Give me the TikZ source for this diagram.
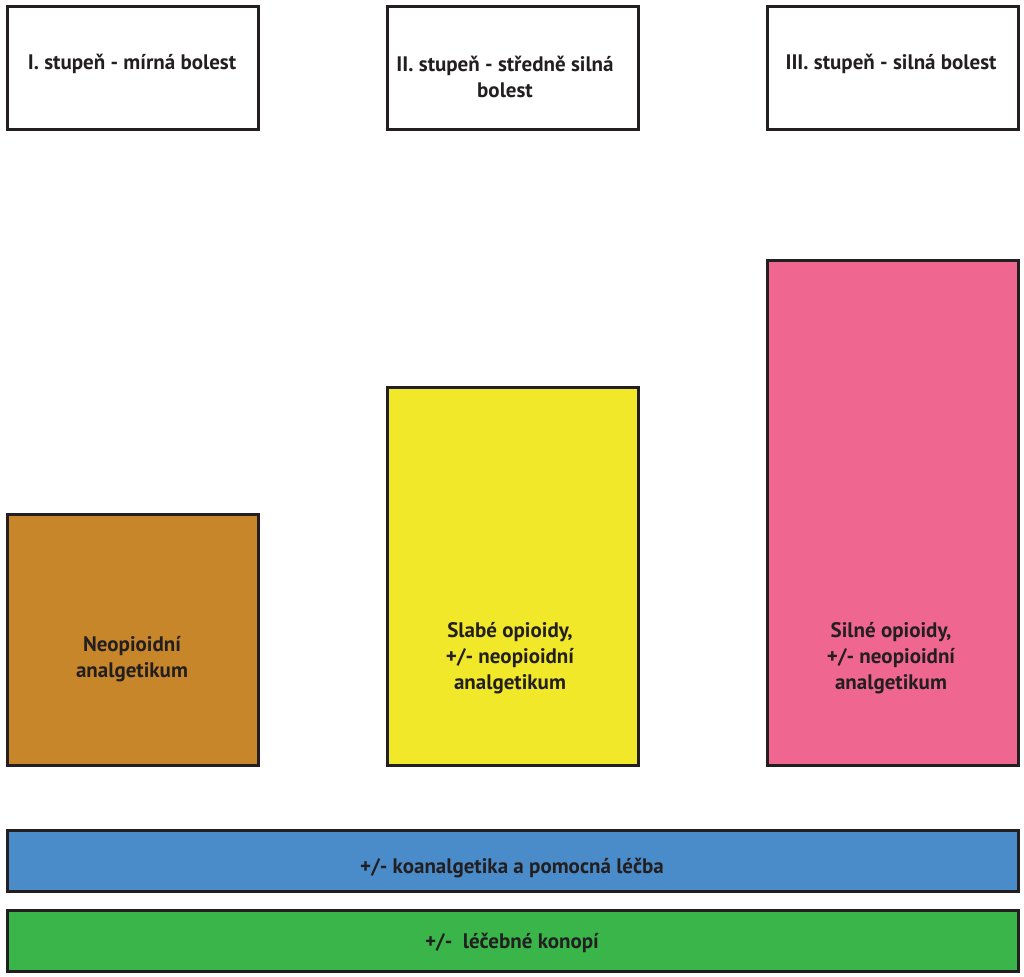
\documentclass[tikz,border=0pt]{standalone}
\usepackage{fontspec}
\setmainfont{PT Sans}
\definecolor{ink}{HTML}{231F20}
\definecolor{cOrange}{HTML}{C8862B}
\definecolor{cYellow}{HTML}{F0E829}
\definecolor{cPink}{HTML}{EF6690}
\definecolor{cBlue}{HTML}{4A8BC9}
\definecolor{cGreen}{HTML}{39B54A}
\begin{document}
\begin{tikzpicture}[x=1pt,y=-1pt,
  box/.style={draw=ink, line width=3pt, rectangle, inner sep=0pt, anchor=north west},
  txt/.style={text=ink, font=\bfseries\fontsize{21}{26}\selectfont, align=center, inner sep=0pt}]
\useasboundingbox (0,0) rectangle (1024,976);
% top headers
\node[box, fill=white, minimum width=251, minimum height=123] (h1) at (5.5,5.5) {};
\node[box, fill=white, minimum width=251, minimum height=123] (h2) at (385.5,5.5) {};
\node[box, fill=white, minimum width=251, minimum height=123] (h3) at (765.5,5.5) {};
\node[txt] (t1) at (132,64) {I. stupeň - mírná bolest};
\node[txt] (t2) at (505,77) {II. stupeň - středně silná\\bolest};
\node[txt] (t3) at (891,64) {III. stupeň - silná bolest};
% bars
\node[box, fill=cOrange, minimum width=251, minimum height=251] (b1) at (5.5,512.5) {};
\node[box, fill=cYellow, minimum width=251, minimum height=378] (b2) at (385.5,385.5) {};
\node[box, fill=cPink, minimum width=251, minimum height=505] (b3) at (765.5,258.5) {};
\node[txt] (u1) at (132,659) {Neopioidní\\analgetikum};
\node[txt] (u2) at (510,658) {Slabé opioidy,\\+/- neopioidní\\analgetikum};
\node[txt] (u3) at (891,658) {Silné opioidy,\\+/- neopioidní\\analgetikum};
% bottom bands
\node[box, fill=cBlue, minimum width=1011, minimum height=61] (k) at (5.5,828.5) {};
\node[box, fill=cGreen, minimum width=1011, minimum height=61] (c) at (5.5,908.5) {};
\node[txt] (kt) at (512,868) {+/- koanalgetika a pomocná léčba};
\node[txt] (ct) at (512,943) {+/-\ \ léčebné konopí};
\end{tikzpicture}
\end{document}
